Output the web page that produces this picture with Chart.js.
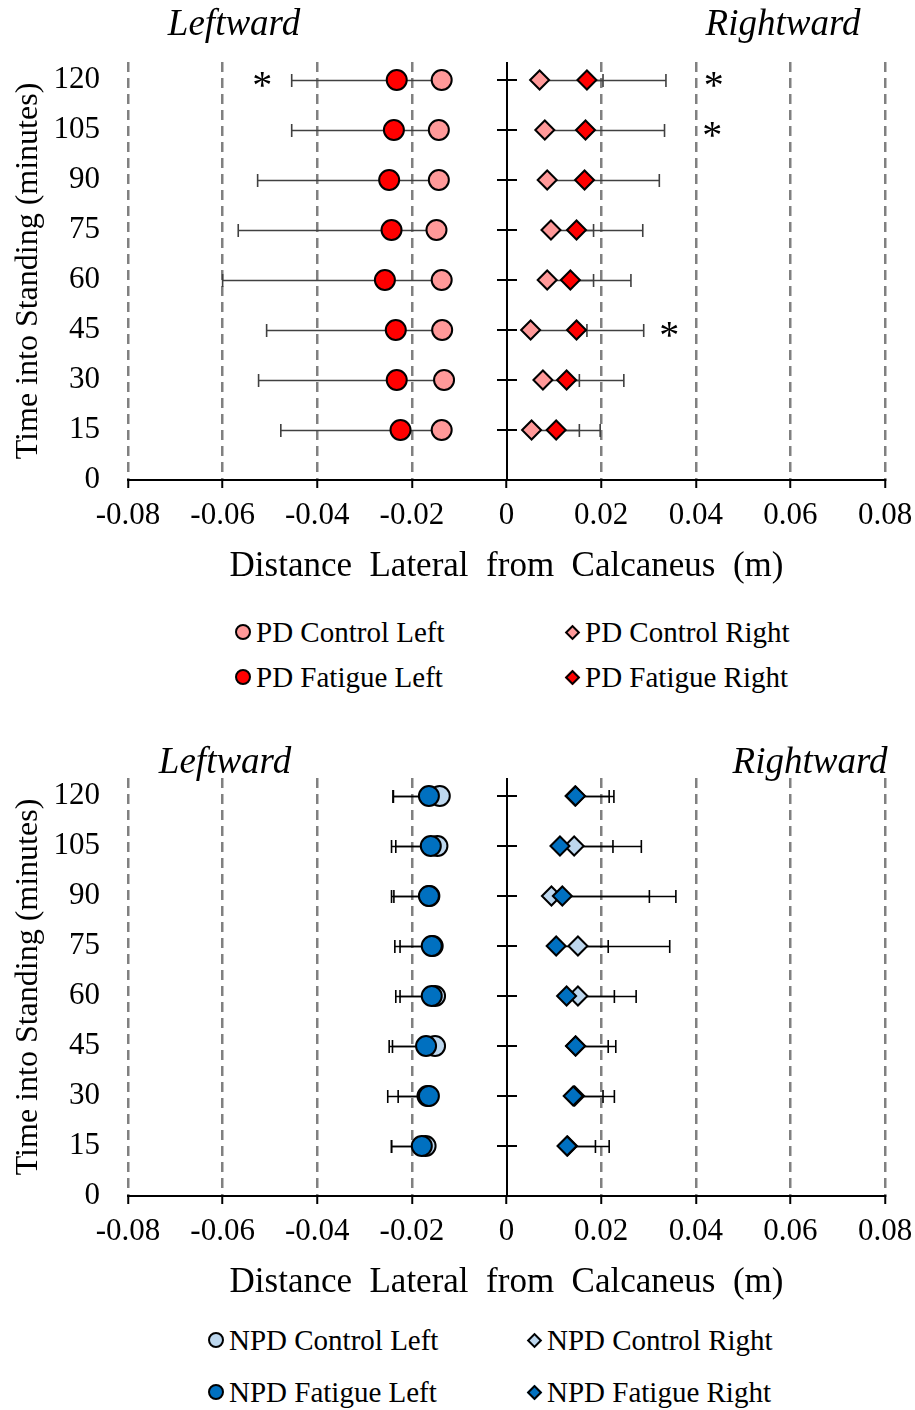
<!DOCTYPE html>
<html>
<head>
<meta charset="utf-8">
<script src="https://cdn.jsdelivr.net/npm/chart.js@4.4.1/dist/chart.umd.min.js"></script>
<style>
  html, body { margin: 0; padding: 0; background: #fff; }
  #page { position: relative; width: 915px; height: 1410px; overflow: hidden; background: #fff; }
  .chartBox { position: absolute; left: 0; width: 915px; height: 600px; }
  .legend { position: absolute; left: 0; top: 0; width: 915px; height: 0;
            font-family: "Liberation Serif", "Times New Roman", serif; font-size: 29px; color: #000; }
  .item { position: absolute; height: 34px; display: flex; align-items: center; white-space: nowrap; line-height: 1; }
  .mkBox { width: 18px; height: 18px; display: flex; align-items: center; justify-content: center; }
  .mk { display: block; box-sizing: border-box; border: 2px solid #000; }
</style>
</head>
<body>
<div id="page">
  <div class="chartBox" style="top:0px"><canvas id="pdChart" width="915" height="600"></canvas></div>
  <div class="legend" id="pdLegend"></div>
  <div class="chartBox" style="top:716px"><canvas id="npdChart" width="915" height="600"></canvas></div>
  <div class="legend" id="npdLegend"></div>
</div>
<script>
// Standing time points (minutes)
const times = [15, 30, 45, 60, 75, 90, 105, 120];

// Axis ticks
const yTickValues = [0, 15, 30, 45, 60, 75, 90, 105, 120];
const yTickLabels = ['0', '15', '30', '45', '60', '75', '90', '105', '120'];
const xTickValues = [-0.08, -0.06, -0.04, -0.02, 0, 0.02, 0.04, 0.06, 0.08];
const xTickLabels = ['-0.08', '-0.06', '-0.04', '-0.02', '0', '0.02', '0.04', '0.06', '0.08'];

// PD group: mean lateral distance (m) and SD, ordered as `times`
const pdControlLeft    = [-0.0137, -0.0132, -0.0136, -0.0137, -0.0148, -0.0143, -0.0143, -0.0137];
const pdControlLeftSD  = [0.0087, 0.0100, 0.0098, 0.0120, 0.0095, 0.0105, 0.0095, 0.0095];
const pdFatigueLeft    = [-0.0224, -0.0232, -0.0234, -0.0257, -0.0243, -0.0248, -0.0238, -0.0232];
const pdFatigueLeftSD  = [0.0253, 0.0292, 0.0273, 0.0343, 0.0324, 0.0278, 0.0216, 0.0222];
const pdControlRight   = [0.0053, 0.0077, 0.0051, 0.0086, 0.0094, 0.0086, 0.0081, 0.0070];
const pdControlRightSD = [0.0101, 0.0077, 0.0119, 0.0098, 0.0090, 0.0082, 0.0089, 0.0134];
const pdFatigueRight   = [0.0105, 0.0127, 0.0148, 0.0135, 0.0148, 0.0165, 0.0167, 0.0170];
const pdFatigueRightSD = [0.0093, 0.0121, 0.0142, 0.0128, 0.0140, 0.0158, 0.0167, 0.0167];

// NPD group: mean lateral distance (m) and SD, ordered as `times`
const npdControlLeft    = [-0.0171, -0.0167, -0.0151, -0.0151, -0.0156, -0.0163, -0.0146, -0.0141];
const npdControlLeftSD  = [0.0072, 0.0062, 0.0090, 0.0074, 0.0069, 0.0075, 0.0088, 0.0098];
const npdFatigueLeft    = [-0.0179, -0.0164, -0.0170, -0.0158, -0.0158, -0.0164, -0.0160, -0.0164];
const npdFatigueLeftSD  = [0.0064, 0.0087, 0.0078, 0.0076, 0.0078, 0.0079, 0.0083, 0.0076];
const npdControlRight   = [0.0129, 0.0144, 0.0146, 0.0151, 0.0151, 0.0095, 0.0143, 0.0145];
const npdControlRightSD = [0.0059, 0.0060, 0.0069, 0.0077, 0.0064, 0.0207, 0.0082, 0.0072];
const npdFatigueRight   = [0.0128, 0.0141, 0.0146, 0.0127, 0.0105, 0.0118, 0.0113, 0.0146];
const npdFatigueRightSD = [0.0089, 0.0087, 0.0085, 0.0147, 0.0240, 0.0240, 0.0172, 0.0081];

// Significant differences (control vs fatigue), marked with an asterisk
const pdSignificance = [
  { x: -0.0516, y: 120 },
  { x: 0.0438, y: 120 },
  { x: 0.0435, y: 105 },
  { x: 0.0344, y: 45 }
];
const npdSignificance = [];

const FONT = '"Liberation Serif", "Times New Roman", serif';

function points(values) {
  return values.map((v, i) => ({ x: v, y: times[i] }));
}

// One-sided error bars: leftward series extend left, rightward series extend right
const errorBarPlugin = {
  id: 'errorBars',
  beforeDatasetsDraw(chart, args, opts) {
    const { ctx, scales: { x, y } } = chart;
    ctx.save();
    ctx.strokeStyle = opts.color;
    ctx.lineWidth = opts.width;
    chart.data.datasets.forEach(ds => {
      if (!ds.errors) return;
      ds.data.forEach((pt, i) => {
        const px = x.getPixelForValue(pt.x);
        const ex = x.getPixelForValue(pt.x + ds.errorSide * ds.errors[i]);
        const py = Math.round(y.getPixelForValue(pt.y)) + 0.5;
        ctx.beginPath();
        ctx.moveTo(px, py);
        ctx.lineTo(ex, py);
        ctx.moveTo(ex, py - opts.cap);
        ctx.lineTo(ex, py + opts.cap);
        ctx.stroke();
      });
    });
    ctx.restore();
  }
};

// Vertical axis crossing at x = 0 with ticks straddling it
const zeroAxisPlugin = {
  id: 'zeroAxis',
  beforeDatasetsDraw(chart, args, opts) {
    const { ctx, chartArea, scales: { x, y } } = chart;
    const x0 = Math.round(x.getPixelForValue(0));
    ctx.save();
    ctx.strokeStyle = '#000';
    ctx.lineWidth = 2;
    ctx.beginPath();
    ctx.moveTo(x0, chartArea.top);
    ctx.lineTo(x0, chartArea.bottom);
    y.ticks.forEach(t => {
      if (t.value === 0) return;
      const py = Math.round(y.getPixelForValue(t.value));
      ctx.moveTo(x0 - opts.tick, py);
      ctx.lineTo(x0 + opts.tick, py);
    });
    ctx.stroke();
    ctx.restore();
  }
};

// Direction headings and significance asterisks
const annotationPlugin = {
  id: 'notes',
  afterDatasetsDraw(chart, args, opts) {
    const { ctx, scales: { x, y } } = chart;
    ctx.save();
    ctx.fillStyle = '#000';
    ctx.textAlign = 'center';
    ctx.textBaseline = 'alphabetic';
    ctx.font = 'italic 37px ' + FONT;
    (opts.headings || []).forEach(h => ctx.fillText(h.text, h.x, h.y));
    ctx.font = '40px ' + FONT;
    (opts.marks || []).forEach(m => {
      const px = x.getPixelForValue(m.x);
      const py = y.getPixelForValue(m.y);
      ctx.fillText('*', px, py + 18);
    });
    ctx.restore();
  }
};

function makeChart(canvasId, series, marks, headings, barColor) {
  const datasets = series.map(s => ({
    label: s.label,
    data: points(s.values),
    errors: s.sd,
    errorSide: s.side,
    pointStyle: s.style,
    pointRadius: s.style === 'rectRot' ? 9.5 : 10,
    pointBackgroundColor: s.color,
    backgroundColor: s.color,
    pointBorderColor: '#000',
    pointBorderWidth: 2,
    showLine: false,
    order: s.order
  }));

  return new Chart(document.getElementById(canvasId), {
    type: 'scatter',
    data: { datasets },
    plugins: [zeroAxisPlugin, errorBarPlugin, annotationPlugin],
    options: {
      responsive: false,
      animation: false,
      devicePixelRatio: 1,
      layout: { padding: { top: 62, right: 30, left: 0, bottom: 0 } },
      plugins: {
        legend: { display: false },
        tooltip: { enabled: false },
        errorBars: { color: barColor, width: 1.6, cap: 6.5 },
        zeroAxis: { tick: 10 },
        notes: { headings: headings, marks: marks }
      },
      scales: {
        x: {
          type: 'linear',
          min: xTickValues[0],
          max: xTickValues[xTickValues.length - 1],
          afterBuildTicks: s => { s.ticks = xTickValues.map(v => ({ value: v })); },
          afterFit: s => { s.height = 120; s.paddingLeft = 0; s.paddingRight = 0; },
          ticks: {
            callback: (v, i) => xTickLabels[i],
            font: { family: FONT, size: 31 },
            color: '#000',
            padding: 9,
            maxRotation: 0,
            autoSkip: false
          },
          grid: {
            color: c => (c.tick && c.tick.value === 0) ? 'rgba(0,0,0,0)' : '#808080',
            lineWidth: 2.5,
            tickLength: 8,
            tickColor: '#000',
            tickWidth: 2
          },
          border: { display: true, color: '#000', width: 2, dash: [10, 6] },
          title: {
            display: true,
            text: 'Distance  Lateral  from  Calcaneus  (m)',
            font: { family: FONT, size: 35 },
            color: '#000',
            padding: { top: 0, bottom: 12 }
          }
        },
        y: {
          type: 'linear',
          min: 0,
          max: 125.4,
          afterBuildTicks: s => { s.ticks = yTickValues.map(v => ({ value: v })); },
          afterFit: s => { s.width = 128; },
          ticks: {
            callback: (v, i) => yTickLabels[i],
            font: { family: FONT, size: 31 },
            color: '#000',
            padding: 28,
            autoSkip: false
          },
          grid: { display: false, drawTicks: false },
          border: { display: false },
          title: {
            display: true,
            text: 'Time into Standing (minutes)',
            font: { family: FONT, size: 32 },
            color: '#000',
            padding: { top: 9, bottom: 0 }
          }
        }
      }
    }
  });
}

// Legend in two columns, built from the chart's datasets
function buildLegend(chart, elId, cols, rows) {
  const el = document.getElementById(elId);
  chart.data.datasets.forEach((ds, i) => {
    const r = Math.floor(i / 2), c = i % 2;
    const item = document.createElement('div');
    item.className = 'item';
    item.style.left = (cols[c] - 9) + 'px';
    item.style.top = (rows[r] - 17) + 'px';
    const box = document.createElement('span');
    box.className = 'mkBox';
    const mk = document.createElement('span');
    mk.className = 'mk';
    mk.style.background = ds.backgroundColor;
    if (ds.pointStyle === 'rectRot') {
      mk.style.width = '11px';
      mk.style.height = '11px';
      mk.style.transform = 'rotate(45deg)';
    } else {
      mk.style.width = '16px';
      mk.style.height = '16px';
      mk.style.borderRadius = '50%';
    }
    box.appendChild(mk);
    const txt = document.createElement('span');
    txt.textContent = ds.label;
    txt.style.marginLeft = '4px';
    item.appendChild(box);
    item.appendChild(txt);
    el.appendChild(item);
  });
}

const pdChart = makeChart('pdChart', [
  { label: 'PD Control Left',  values: pdControlLeft,  sd: pdControlLeftSD,  side: -1, style: 'circle',  color: '#FF9999', order: 1 },
  { label: 'PD Control Right', values: pdControlRight, sd: pdControlRightSD, side: 1,  style: 'rectRot', color: '#FF9999', order: 1 },
  { label: 'PD Fatigue Left',  values: pdFatigueLeft,  sd: pdFatigueLeftSD,  side: -1, style: 'circle',  color: '#FF0000', order: 0 },
  { label: 'PD Fatigue Right', values: pdFatigueRight, sd: pdFatigueRightSD, side: 1,  style: 'rectRot', color: '#FF0000', order: 0 }
], pdSignificance, [
  { text: 'Leftward', x: 234, y: 35 },
  { text: 'Rightward', x: 783, y: 35 }
], '#404040');

const npdChart = makeChart('npdChart', [
  { label: 'NPD Control Left',  values: npdControlLeft,  sd: npdControlLeftSD,  side: -1, style: 'circle',  color: '#BDD7EE', order: 1 },
  { label: 'NPD Control Right', values: npdControlRight, sd: npdControlRightSD, side: 1,  style: 'rectRot', color: '#BDD7EE', order: 1 },
  { label: 'NPD Fatigue Left',  values: npdFatigueLeft,  sd: npdFatigueLeftSD,  side: -1, style: 'circle',  color: '#0070C0', order: 0 },
  { label: 'NPD Fatigue Right', values: npdFatigueRight, sd: npdFatigueRightSD, side: 1,  style: 'rectRot', color: '#0070C0', order: 0 }
], npdSignificance, [
  { text: 'Leftward', x: 225, y: 57 },
  { text: 'Rightward', x: 810, y: 57 }
], '#000000');

buildLegend(pdChart, 'pdLegend', [243, 572], [632, 677]);
buildLegend(npdChart, 'npdLegend', [216, 534], [1340, 1392]);
</script>
</body>
</html>
